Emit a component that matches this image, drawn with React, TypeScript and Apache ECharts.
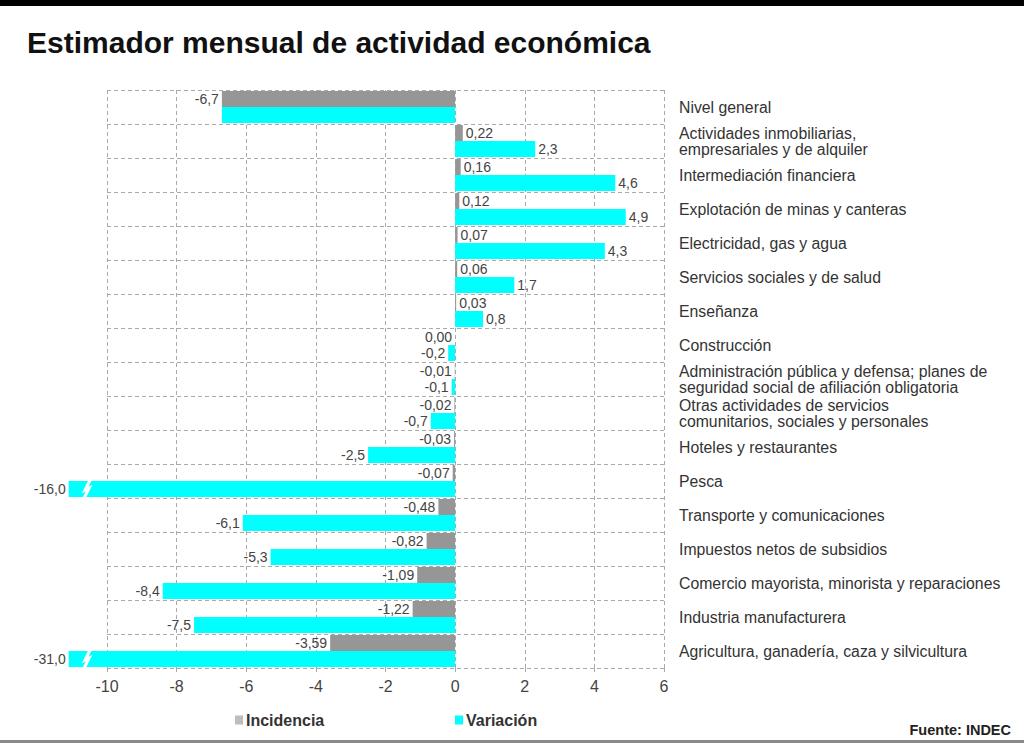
import React, { useEffect, useRef } from "react";
import * as echarts from "echarts";

const categories = [
  "Nivel general",
  "Actividades inmobiliarias,\nempresariales y de alquiler",
  "Intermediación financiera",
  "Explotación de minas y canteras",
  "Electricidad, gas y agua",
  "Servicios sociales y de salud",
  "Enseñanza",
  "Construcción",
  "Administración pública y defensa; planes de\nseguridad social de afiliación obligatoria",
  "Otras actividades de servicios\ncomunitarios, sociales y personales",
  "Hoteles y restaurantes",
  "Pesca",
  "Transporte y comunicaciones",
  "Impuestos netos de subsidios",
  "Comercio mayorista, minorista y reparaciones",
  "Industria manufacturera",
  "Agricultura, ganadería, caza y silvicultura",
];

const incidencia = [-6.7, 0.22, 0.16, 0.12, 0.07, 0.06, 0.03, 0.0, -0.01, -0.02, -0.03, -0.07, -0.48, -0.82, -1.09, -1.22, -3.59];
const variacion = [-6.7, 2.3, 4.6, 4.9, 4.3, 1.7, 0.8, -0.2, -0.1, -0.7, -2.5, -16.0, -6.1, -5.3, -8.4, -7.5, -31.0];

const X_MIN = -10;
const X_MAX = 6;
const X_STEP = 2;
const CLIP_AT = -11.1; // where truncated bars end
const BREAK_AT = -10.6; // where the break mark is drawn

const FONT = "'Liberation Sans', Arial, sans-serif";

const fmt = (v: number, d: number) => v.toFixed(d).replace(".", ",");

export default function App() {
  const ref = useRef<HTMLDivElement>(null);

  useEffect(() => {
    if (!ref.current) return;
    const chart = echarts.init(ref.current, undefined, { renderer: "svg" });

    const barLabel = {
      show: true,
      distance: 3,
      fontSize: 14,
      color: "#444",
      fontFamily: FONT,
    };

    const incData = incidencia.map((v, i) => ({
      value: Math.max(v, CLIP_AT),
      label: {
        position: v > 0 ? "right" : "left",
        formatter: fmt(v, i === 0 ? 1 : 2),
      },
    }));

    const varData = variacion.map((v, i) => ({
      value: Math.max(v, CLIP_AT),
      label: {
        show: i !== 0,
        position: v > 0 ? "right" : "left",
        formatter: fmt(v, 1),
      },
    }));

    const breaks = variacion
      .map((v, i) => (v < X_MIN ? [BREAK_AT, i] : null))
      .filter((d) => d !== null);

    const legendText = { fontSize: 16, fontWeight: "bold", color: "#333", fontFamily: FONT, padding: [0, 0, 0, -2] };

    const option = {
      animation: false,
      backgroundColor: "#fff",
      textStyle: { fontFamily: FONT },
      grid: { left: 107, right: 360, top: 90, bottom: 75, containLabel: false },
      legend: [
        {
          data: [{ name: "Incidencia", itemStyle: { color: "#bdbdbd" } }],
          left: 230,
          top: 707,
          itemWidth: 8,
          itemHeight: 9,
          icon: "rect",
          textStyle: legendText,
          selectedMode: false,
        },
        {
          data: ["Variación"],
          left: 450,
          top: 707,
          itemWidth: 8,
          itemHeight: 9,
          icon: "rect",
          textStyle: legendText,
          selectedMode: false,
        },
      ],
      xAxis: {
        type: "value",
        min: X_MIN,
        max: X_MAX,
        interval: X_STEP,
        axisLine: { show: false },
        axisTick: { show: true, length: 5, lineStyle: { color: "#aaa", type: "dashed" } },
        axisLabel: { fontSize: 16, color: "#444", margin: 10, fontFamily: FONT },
        splitLine: { show: true, lineStyle: { color: "#aaa", type: [4, 3], width: 1 } },
      },
      yAxis: {
        type: "category",
        data: categories,
        inverse: true,
        position: "right",
        axisLine: { show: false },
        axisTick: { show: false },
        axisLabel: {
          margin: 15,
          align: "left",
          fontSize: 15.8,
          lineHeight: 16,
          color: "#333",
          fontFamily: FONT,
          padding: [0, 0, 4, 0],
        },
        splitLine: { show: true, lineStyle: { color: "#aaa", type: [4, 3], width: 1 } },
      },
      series: [
        {
          name: "Incidencia",
          type: "bar",
          data: incData,
          itemStyle: { color: "#969696" },
          barGap: "0%",
          barCategoryGap: "6%",
          clip: false,
          label: barLabel,
          z: 3,
        },
        {
          name: "Variación",
          type: "bar",
          data: varData,
          itemStyle: { color: "#00ffff" },
          barGap: "0%",
          barCategoryGap: "6%",
          clip: false,
          label: barLabel,
          z: 3,
        },
        {
          type: "custom",
          coordinateSystem: "cartesian2d",
          encode: { x: 0, y: 1 },
          data: breaks,
          z: 10,
          silent: true,
          renderItem: (params: any, api: any) => {
            const c = api.coord([api.value(0), api.value(1)]);
            const band = api.size([0, 1])[1];
            const h = (band * 0.94) / 2;
            const cx = c[0];
            const cy = c[1] + h / 2;
            return {
              type: "polyline",
              shape: {
                points: [
                  [cx + 4, cy - h / 2 - 1],
                  [cx - 1, cy + 1],
                  [cx + 3, cy - 1],
                  [cx - 2, cy + h / 2 + 1],
                ],
              },
              style: { stroke: "#fff", lineWidth: 3, fill: null },
            };
          },
        },
      ],
      graphic: [
        {
          type: "rect",
          left: 0,
          top: 0,
          shape: { width: 1024, height: 6 },
          style: { fill: "#000" },
        },
        {
          type: "text",
          x: 27,
          y: 42,
          style: {
            text: "Estimador mensual de actividad económica",
            fontSize: 30,
            fontWeight: "bold",
            fontFamily: FONT,
            fill: "#111",
            verticalAlign: "middle",
          },
        },
        {
          type: "text",
          x: 1011,
          y: 730,
          style: {
            text: "Fuente: INDEC",
            fontSize: 14.5,
            fontWeight: "bold",
            fontFamily: FONT,
            fill: "#222",
            align: "right",
            verticalAlign: "middle",
          },
        },
        {
          type: "rect",
          left: 0,
          top: 740,
          shape: { width: 1024, height: 3 },
          style: { fill: "#8a8a8a" },
        },
      ],
    };

    chart.setOption(option as any);
    return () => chart.dispose();
  }, []);

  return (
    <div
      ref={ref}
      style={{ position: "fixed", left: 0, top: 0, width: 1024, height: 743 }}
    />
  );
}
